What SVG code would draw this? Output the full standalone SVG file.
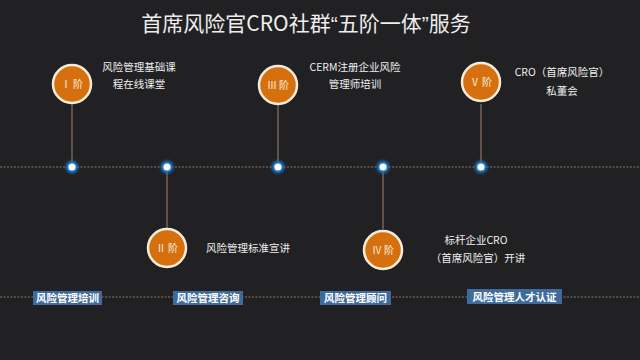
<svg xmlns="http://www.w3.org/2000/svg" width="640" height="360" viewBox="0 0 640 360">
<defs>
<style>
.t{font-family:"Noto Sans CJK SC","Liberation Sans",sans-serif;fill:#eeeeee;}
.q{font-family:"Liberation Sans",sans-serif;}
.desc{font-size:10.5px;text-anchor:middle;}
.circ{fill:#d6700e;stroke:#f6ecdc;stroke-width:2.5;}
.num{font-size:10px;text-anchor:middle;fill:#f6ecdc;}
.dot{fill:#ffffff;stroke:#1c74c4;stroke-width:1.8;}
.vl{stroke:#8a7266;stroke-width:1.2;}
.hl{stroke:#8e7868;stroke-width:1.2;stroke-dasharray:2 1.5;}
.lab{fill:#3e6b9c;}
.labt{font-size:10.5px;font-weight:bold;text-anchor:middle;fill:#ffffff;}
</style>
<filter id="glow" x="-1" y="-1" width="3" height="3"><feGaussianBlur stdDeviation="1.2"/></filter>
</defs>
<rect width="640" height="360" fill="#212123"/>
<text class="t" x="306" y="31" font-size="21" text-anchor="middle">首席风险官CRO社群<tspan class="q">“</tspan>五阶一体<tspan class="q">”</tspan>服务</text>
<g id="connectors">
<line class="hl" x1="0" y1="167" x2="640" y2="167"/>
<line class="hl" x1="0" y1="297" x2="640" y2="297"/>
<line class="vl" x1="72" y1="104" x2="72" y2="167"/>
<line class="vl" x1="278" y1="104" x2="278" y2="167"/>
<line class="vl" x1="481" y1="104" x2="481" y2="167"/>
<line class="vl" x1="167" y1="167" x2="167" y2="228"/>
<line class="vl" x1="383" y1="167" x2="383" y2="229"/>
</g>
<g id="dots">
<circle cx="72" cy="167" r="7" fill="#1c74c4" opacity="0.6" filter="url(#glow)"/>
<circle class="dot" cx="72" cy="167" r="4.5"/>
<circle cx="167" cy="167" r="7" fill="#1c74c4" opacity="0.6" filter="url(#glow)"/>
<circle class="dot" cx="167" cy="167" r="4.5"/>
<circle cx="278" cy="167" r="7" fill="#1c74c4" opacity="0.6" filter="url(#glow)"/>
<circle class="dot" cx="278" cy="167" r="4.5"/>
<circle cx="383" cy="167" r="7" fill="#1c74c4" opacity="0.6" filter="url(#glow)"/>
<circle class="dot" cx="383" cy="167" r="4.5"/>
<circle cx="481" cy="167" r="7" fill="#1c74c4" opacity="0.6" filter="url(#glow)"/>
<circle class="dot" cx="481" cy="167" r="4.5"/>
</g>
<g id="stage1">
<circle class="circ" cx="72" cy="84" r="19"/>
<text class="t num" x="72" y="88">Ⅰ 阶</text>
<text class="t desc" x="139" y="71">风险管理基础课</text>
<text class="t desc" x="139" y="88">程在线课堂</text>
</g>
<g id="stage2">
<circle class="circ" cx="167" cy="248" r="19"/>
<text class="t num" x="167" y="252">Ⅱ 阶</text>
<text class="t desc" x="248" y="252">风险管理标准宣讲</text>
</g>
<g id="stage3">
<circle class="circ" cx="278" cy="85" r="19"/>
<text class="t num" x="278" y="89">Ⅲ 阶</text>
<text class="t desc" x="355" y="71">CERM注册企业风险</text>
<text class="t desc" x="355" y="88">管理师培训</text>
</g>
<g id="stage4">
<circle class="circ" cx="383" cy="250" r="19"/>
<text class="t num" x="383" y="254">Ⅳ 阶</text>
<text class="t desc" x="476" y="244">标杆企业CRO</text>
<text class="t desc" x="478" y="262">（首席风险官）开讲</text>
</g>
<g id="stage5">
<circle class="circ" cx="481" cy="82" r="19"/>
<text class="t num" x="481" y="86">Ⅴ 阶</text>
<text class="t desc" x="562" y="76">CRO（首席风险官）</text>
<text class="t desc" x="562" y="95">私董会</text>
</g>
<g id="label1">
<rect class="lab" x="33" y="291" width="69" height="14"/>
<text class="t labt" x="67.5" y="302">风险管理培训</text>
</g>
<g id="label2">
<rect class="lab" x="173" y="291" width="70" height="14"/>
<text class="t labt" x="208" y="302">风险管理咨询</text>
</g>
<g id="label3">
<rect class="lab" x="320" y="291" width="71" height="14"/>
<text class="t labt" x="355.5" y="302">风险管理顾问</text>
</g>
<g id="label4">
<rect class="lab" x="467" y="289" width="95" height="15"/>
<text class="t labt" x="514.5" y="300.5">风险管理人才认证</text>
</g>
</svg>
